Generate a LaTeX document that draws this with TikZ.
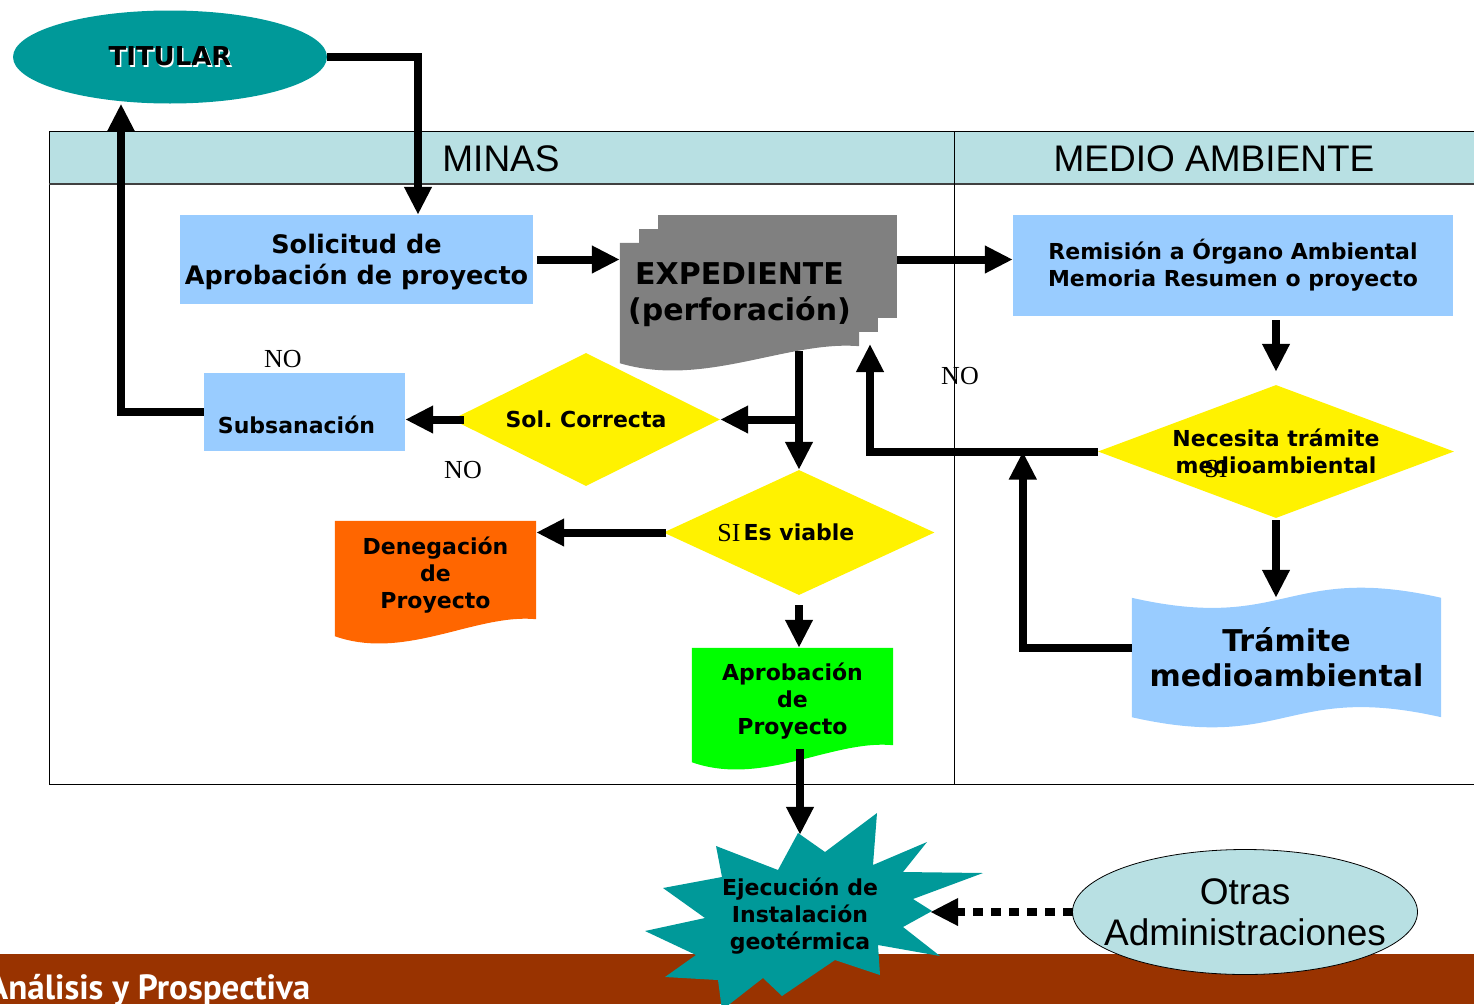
\documentclass[tikz,border=0pt]{standalone}
\usepackage{fontspec}
\setmainfont{DejaVu Sans}
\newfontfamily\arialfont{Liberation Sans}
\newfontfamily\timesfont{Liberation Serif}
\newfontfamily\footfont{PT Sans}
\usetikzlibrary{arrows.meta}
\usetikzlibrary{positioning}
\usetikzlibrary{shapes.geometric}
\usetikzlibrary{calc}
\usetikzlibrary{backgrounds}

\definecolor{tealfill}{HTML}{009999}
\definecolor{headfill}{HTML}{B8E0E3}
\definecolor{boxblue}{HTML}{99CCFF}
\definecolor{docorange}{HTML}{FF6600}
\definecolor{docgreen}{HTML}{00FF00}
\definecolor{expgray}{HTML}{808080}
\definecolor{footbrown}{HTML}{993300}

% black text with a white offset copy behind it
\newcommand\shadowtext[1]{%
  \makebox[0pt][l]{\hspace{1.5pt}\raisebox{-1.5pt}{\color{white}#1}}#1}

% flowchart document: straight top, wavy bottom
\newcommand\docfill[2]{%
  \fill[#2] (#1.north west) -- (#1.north east) -- (#1.south east)
    .. controls ($(#1.south east)!0.3!(#1.south west) + (0,-6)$)
    and ($(#1.south east)!0.65!(#1.south west) + (0,42)$)
    .. ($(#1.south west) + (0,17)$) -- cycle;
}
% punched tape: wavy top and bottom
\newcommand\tapefill[2]{%
  \fill[#2] (#1.north west)
    .. controls ($(#1.north west)!0.5!(#1.north east) + (0,35)$)
    and ($(#1.north west)!0.5!(#1.north east) + (0,-35)$)
    .. (#1.north east) -- (#1.south east)
    .. controls ($(#1.south west)!0.5!(#1.south east) + (0,-35)$)
    and ($(#1.south west)!0.5!(#1.south east) + (0,35)$)
    .. (#1.south west) -- cycle;
}

\tikzset {
  flow path/.style = {
    draw = black,
    line width = 8pt
  },
  % thick connector with a solid head
  arr/.style = {
    flow path,
    -{Triangle[length = 28pt, width = 26pt]}
  },
  % dotted connector
  darr/.style = {
    arr,
    dash pattern = on 10pt off 8pt
  }
}
\tikzset {
  chart node/.style = {
    inner sep = 0,
    align = center,
    font = \bfseries\fontsize{22}{27}\selectfont
  },
  % plain step
  box/.style = {
    chart node,
    rectangle,
    fill = boxblue
  },
  % question
  decision/.style = {
    chart node,
    diamond,
    fill = yellow
  },
  % document, filled by \docfill
  doc/.style = {
    chart node,
    rectangle
  },
  head/.style = {
    inner sep = 0,
    font = \arialfont\fontsize{37}{41}\selectfont
  },
  note/.style = {
    inner sep = 0,
    font = \timesfont\fontsize{26}{30}\selectfont
  }
}

\begin{document}
\begin{tikzpicture}[x = 1pt, y = -1pt]
  \useasboundingbox (0,0) rectangle (1474,1004);

  % lanes
  \fill[headfill] (49,131) rectangle (1490,184);
  \draw[line width = 1pt] (49,131) rectangle (1490,784);
  \draw[line width = 2pt, black!75] (49,184) -- (1490,184);
  \draw[line width = 1pt] (954,131) -- (954,784);
  \node[head] (minas) at (501,159) {MINAS};
  \node[head] (medio) at (1214,159) {MEDIO AMBIENTE};

  \node[chart node, ellipse, fill = tealfill, minimum width = 314pt,
    minimum height = 93pt, font = \bfseries\fontsize{26}{30}\selectfont]
    (titular) at (170,57) {\shadowtext{TITULAR}};
  \node[box, minimum width = 353pt, minimum height = 89pt,
    label = {[chart node, yshift = -3pt, font = \bfseries\fontsize{25.5}{31}\selectfont]
      center:{Solicitud de\\Aprobación de proyecto}}]
    (solic) at (356.5,259.5) {};
  \node[doc, minimum width = 239pt, minimum height = 103pt,
    font = \bfseries\fontsize{30}{36}\selectfont]
    (exped) at (739.5,294.5) {EXPEDIENTE\\(perforación)};
  \node[box, minimum width = 440pt, minimum height = 101pt]
    (remis) at (1233,265.5) {Remisión a Órgano Ambiental\\Memoria Resumen o proyecto};
  \node[box, minimum width = 201pt, minimum height = 78pt,
    label = {[chart node, xshift = -8pt, yshift = -13pt]center:Subsanación}]
    (subs) at (304.5,412) {};
  \node[decision, aspect = 1.92, minimum width = 268pt, minimum height = 133pt]
    (solc) at (586,419.5) {Sol.\ Correcta};
  \node[decision, aspect = 2.1, minimum width = 271pt, minimum height = 125pt]
    (viable) at (799,532.5) {Es viable};
  \node[doc, minimum width = 201pt, minimum height = 98pt,
    label = {[chart node, yshift = -5pt]center:{Denegación\\de\\Proyecto}}]
    (deneg) at (435.5,570) {};
  \node[doc, minimum width = 201pt, minimum height = 97pt,
    label = {[chart node, yshift = -5pt]center:{Aprobación\\de\\Proyecto}}]
    (aprob) at (792.5,696.5) {};
  \node[decision, aspect = 2.66, minimum width = 356pt, minimum height = 133pt]
    (necesita) at (1276,451.5) {Necesita trámite\\medioambiental};
  \node[doc, minimum width = 309pt, minimum height = 119pt,
    font = \bfseries\fontsize{30}{35}\selectfont]
    (tramite) at (1286.5,657.5) {Trámite\\medioambiental};

  \begin{scope}[on background layer]
    \fill[expgray] ([shift = {(38,-28)}]exped.north west)
      rectangle ([shift = {(38,-28)}]exped.south east);
    \fill[expgray] ([shift = {(19,-14)}]exped.north west)
      rectangle ([shift = {(19,-14)}]exped.south east);
    \docfill{exped}{expgray}
    \docfill{deneg}{docorange}
    \docfill{aprob}{docgreen}
    \tapefill{tramite}{boxblue}
  \end{scope}

  \node[note] (no-subs) at (283,359) {NO};
  \node[note] (no-sol) at (463,470) {NO};
  \node[note] (no-nec) at (960,376) {NO};
  \node[note] (si-viable) at (729,533) {SI};
  \node[note] (si-nec) at (1216,469) {SI};

  \coordinate (exped-out) at ([xshift = 38pt]exped.east);
  \coordinate (exped-in) at (870,344);
  \coordinate (join) at ($(necesita.west) + (-75,0)$);

  \draw[arr] (titular.east) -| ([xshift = 61.5pt]solic.north);
  \draw[arr, shorten < = 4pt] (solic.east) -- (solic.east -| exped.west);
  \draw[arr] (exped-out |- solic.east) -- (remis.west |- solic.east);
  \draw[arr, shorten < = 5pt] (viable.north |- exped.south) -- (viable.north);
  \draw[arr] (viable.north |- solc.east) -- (solc.east);
  \draw[arr] ([xshift = 12pt]solc.west) -- (solc.west -| subs.east);
  \draw[arr] (subs.west) -| ([xshift = -49pt]titular.south);
  \draw[arr, shorten < = -3pt] (viable.west) -- (viable.west -| deneg.east);
  \draw[arr, shorten < = 10pt] (viable.south) -- (viable.south |- aprob.north);
  \draw[arr, shorten < = 4pt, shorten > = 13pt]
    (necesita.north |- remis.south) -- (necesita.north);
  \draw[arr, shorten < = 2pt] (necesita.south) -- (necesita.south |- tramite.north);
  \draw[arr] ([yshift = 10pt]tramite.west) -| (join);
  \draw[arr] (necesita.west) -| (exped-in);

  % footer band
  \fill[footbrown] (0,954) rectangle (1474,1004);
  \node[anchor = base west, inner sep = 0, text = white,
    font = \footfont\bfseries\fontsize{35}{38}\selectfont]
    (footer) at (-13,999) {Análisis y Prospectiva};

  % burst
  \fill[tealfill] (798,833) -- (825,852) -- (877,813) -- (873,865)
    -- (927,842) -- (903,872) -- (983,873) -- (913,899) -- (932,911)
    -- (903,927) -- (940,956) -- (878,945) -- (880,975) -- (835,960)
    -- (782,996) -- (763,978) -- (722,1010) -- (718,980) -- (665,977)
    -- (696,955) -- (645,931) -- (705,918) -- (663,888) -- (722,877)
    -- (716,846) -- (778,870) -- cycle;
  \node[chart node, minimum width = 260pt, minimum height = 162pt]
    (ejec) at (800,916) {Ejecución de\\Instalación\\geotérmica};

  \node[head, align = center] (otras) at (1245,912) {Otras\\Administraciones};
  \draw[fill = headfill, line width = 0.8pt] (otras.center)
    ellipse [x radius = 172.5pt, y radius = 62.5pt];
  \node[head, align = center] at (otras.center) {Otras\\Administraciones};
  \coordinate (otras-w) at ([xshift = -172.5pt]otras.center);

  \draw[arr, shorten < = 4pt] (aprob.south -| ejec.north) -- (ejec.north);
  \draw[darr] (otras-w) -- (otras-w -| ejec.east);
\end{tikzpicture}
\end{document}
